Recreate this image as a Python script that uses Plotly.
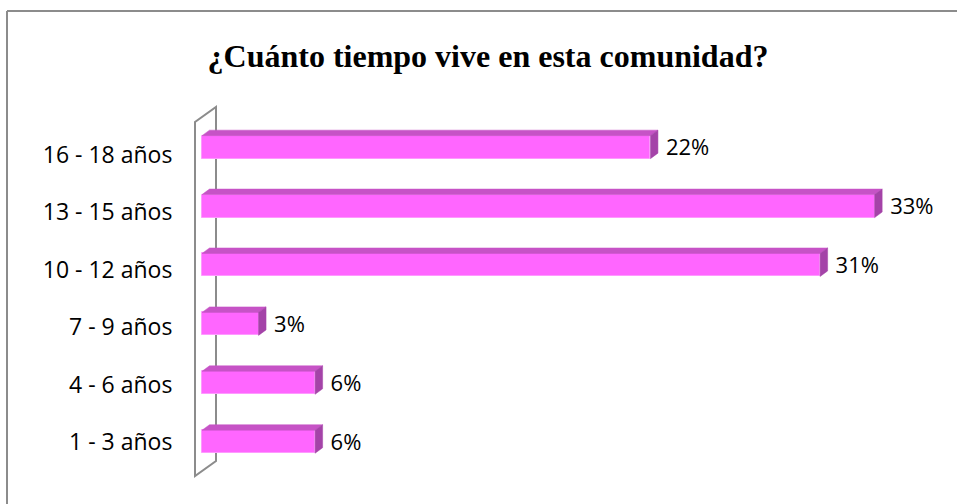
import plotly.graph_objects as go

# ---- data ----
categories = ["1 - 3 años", "4 - 6 años", "7 - 9 años", "10 - 12 años", "13 - 15 años", "16 - 18 años"]
values = [5.6, 5.6, 2.8, 30.6, 33.3, 22.2]
value_labels = ["6%", "6%", "3%", "31%", "33%", "22%"]
title_text = "¿Cuánto tiempo vive en esta comunidad?"

# ---- layout geometry ----
W, H = 957, 504
L, R, T, B = 190, 10, 100, 24
plot_w = W - L - R
plot_h = H - T - B
X_PPU = 20.2                      # pixels per percent
x_min = -12 / X_PPU
x_max = x_min + plot_w / X_PPU
y_min, y_max = -0.65, 5.8
Y_PPU = plot_h / (y_max - y_min)

BAR_H = 23 / Y_PPU                # bar thickness in category units
DX = 7.5 / X_PPU                  # 3D depth offset
DY = 5.5 / Y_PPU
LABEL_GAP = 8 / X_PPU

FRONT = "#FF66FF"
TOP = "#C653C6"
SIDE = "#A443A8"
EDGE = "#FF99FF"

pos = list(range(len(categories)))

fig = go.Figure()

# front faces
fig.add_trace(go.Bar(
    x=values, y=pos, orientation="h", width=BAR_H, base=0,
    marker=dict(color=FRONT, line=dict(color=EDGE, width=1)),
    hoverinfo="skip", showlegend=False,
))

# top faces and side faces (3D effect) built from the data
tx, ty, sx, sy = [], [], [], []
for p, v in zip(pos, values):
    top = p + BAR_H / 2
    bot = p - BAR_H / 2
    tx += [0, v, v + DX, DX, 0, None]
    ty += [top, top, top + DY, top + DY, top, None]
    sx += [v, v, v + DX, v + DX, v, None]
    sy += [bot, top, top + DY, bot + DY, bot, None]

fig.add_trace(go.Scatter(x=tx, y=ty, fill="toself", fillcolor=TOP, mode="lines",
                         line=dict(width=0.5, color=TOP), hoverinfo="skip", showlegend=False))
fig.add_trace(go.Scatter(x=sx, y=sy, fill="toself", fillcolor=SIDE, mode="lines",
                         line=dict(width=0.5, color=SIDE), hoverinfo="skip", showlegend=False))

# data labels
fig.add_trace(go.Scatter(
    x=[v + DX + LABEL_GAP for v in values], y=[p - 0.04 for p in pos], mode="text", text=value_labels,
    textposition="middle right",
    textfont=dict(family="Open Sans", size=22, color="#000000"),
    hoverinfo="skip", showlegend=False,
))

# invisible trace to carry category labels on y2
y2_min = -(480 - 442) / 57.4
y2_max = y2_min + plot_h / 57.4
fig.add_trace(go.Scatter(x=[0] * len(pos), y=pos, yaxis="y2", mode="markers",
                         marker=dict(opacity=0), hoverinfo="skip", showlegend=False))

# back wall (decoration)
wx0, wx1 = -7 / X_PPU, 14 / X_PPU
wyb0 = y_min + 4 / Y_PPU
wyt0 = y_min + 358 / Y_PPU
wyb1 = y_min + 19 / Y_PPU
wyt1 = y_min + 373 / Y_PPU
fig.add_shape(type="path",
              path=f"M {wx0},{wyb0} L {wx0},{wyt0} L {wx1},{wyt1} L {wx1},{wyb1} Z",
              xref="x", yref="y", line=dict(color="#8C8C8C", width=2), layer="below")

# chart border (top and left only)
def px_x(px):
    return (px - L) / plot_w

def px_y(py):
    return (H - B - py) / plot_h

fig.add_shape(type="line", xref="paper", yref="paper",
              x0=px_x(7), x1=px_x(W), y0=px_y(11), y1=px_y(11),
              line=dict(color="#8C8C8C", width=2))
fig.add_shape(type="line", xref="paper", yref="paper",
              x0=px_x(7), x1=px_x(7), y0=px_y(11), y1=px_y(H),
              line=dict(color="#8C8C8C", width=2))

fig.update_layout(
    width=W, height=H,
    margin=dict(l=L, r=R, t=T, b=B),
    paper_bgcolor="white", plot_bgcolor="white",
    title=dict(text=f"<b>{title_text}</b>", x=488 / W, xanchor="center",
               y=1 - 56 / H, yanchor="middle",
               font=dict(family="Liberation Serif", size=32, color="#000000")),
    xaxis=dict(range=[x_min, x_max], visible=False, fixedrange=True),
    yaxis=dict(range=[y_min, y_max], visible=False, fixedrange=True),
    yaxis2=dict(range=[y2_min, y2_max], overlaying="y", side="left",
                tickmode="array", tickvals=pos, ticktext=categories,
                ticks="outside", ticklen=12, tickcolor="rgba(0,0,0,0)",
                showgrid=False, zeroline=False, showline=False,
                tickfont=dict(family="Open Sans", size=23, color="#000000"),
                fixedrange=True),
    bargap=0,
)

fig.write_html("out.html", config={"displayModeBar": False},
               post_script="document.body.style.margin='0';")
